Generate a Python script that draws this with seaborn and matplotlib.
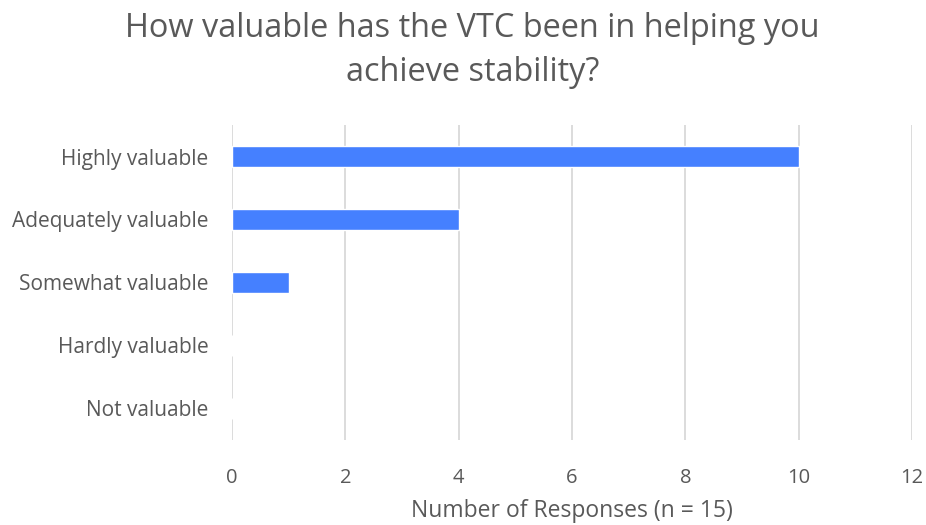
import matplotlib
matplotlib.use("Agg")
import matplotlib.pyplot as plt
import seaborn as sns
import pandas as pd

categories = ["Highly valuable", "Adequately valuable", "Somewhat valuable",
              "Hardly valuable", "Not valuable"]
responses = [10, 4, 1, 0, 0]
x_ticks = [0, 2, 4, 6, 8, 10, 12]

TEXT = "#595959"
GRID = "#d9d9d9"
BAR = "#4580ff"

sns.set_theme(style="white")
plt.rcParams["font.family"] = ["Open Sans", "DejaVu Sans"]

df = pd.DataFrame({"category": categories, "count": responses})

fig = plt.figure(figsize=(9.26, 5.25), dpi=100)
ax = fig.add_axes([232 / 926, 1 - 440 / 525, 680 / 926, 315 / 525])

sns.barplot(data=df, y="category", x="count", order=categories,
            color=BAR, width=0.33, saturation=1, ax=ax)

ax.set_xlim(0, 12)
ax.set_ylim(4.5, -0.5)
ax.set_xticks(x_ticks)
ax.xaxis.grid(True, color=GRID, linewidth=1.3)
ax.set_axisbelow(True)
for s in ax.spines.values():
    s.set_visible(False)
ax.tick_params(axis="x", length=0, pad=20, labelsize=14.5, labelcolor=TEXT)
ax.tick_params(axis="y", length=0, pad=17, labelsize=15, labelcolor=TEXT)
ax.set_ylabel("")
ax.set_xlabel("Number of Responses (n = 15)", fontsize=16.5, color=TEXT, labelpad=8)

fig.suptitle("How valuable has the VTC been in helping you\nachieve stability?",
             x=0.51, y=0.978, fontsize=23.4, color=TEXT, linespacing=1.45)

fig.savefig("out.png", dpi=100)
